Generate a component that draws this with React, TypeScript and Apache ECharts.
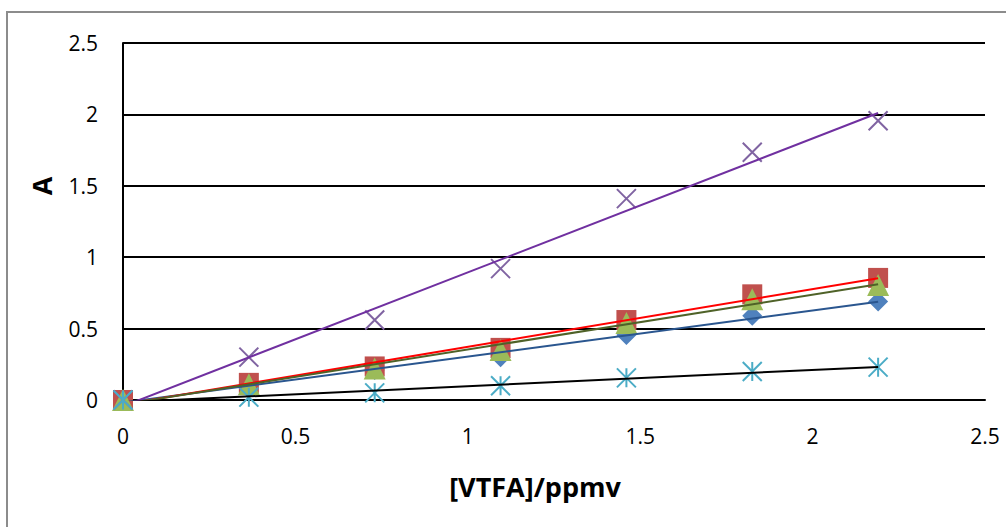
import React, { useEffect, useRef } from "react";
import * as echarts from "echarts";

const xValues = [0, 0.365, 0.73, 1.095, 1.46, 1.825, 2.19];
const seriesBlue = [0, 0.1, 0.21, 0.3, 0.455, 0.59, 0.69];
const seriesRed = [0, 0.12, 0.235, 0.365, 0.56, 0.74, 0.855];
const seriesGreen = [0, 0.11, 0.22, 0.35, 0.54, 0.705, 0.805];
const seriesPurple = [0, 0.3, 0.56, 0.92, 1.41, 1.735, 1.955];
const seriesCyan = [0, 0.02, 0.05, 0.1, 0.155, 0.2, 0.23];

const xTitle = "[VTFA]/ppmv";
const yTitle = "A";

function pairs(ys: number[]) {
  return xValues.map((x, i) => [x, ys[i]]);
}

function trend(ys: number[]) {
  const n = xValues.length;
  const mx = xValues.reduce((a, b) => a + b, 0) / n;
  const my = ys.reduce((a, b) => a + b, 0) / n;
  let sxy = 0;
  let sxx = 0;
  for (let i = 0; i < n; i++) {
    sxy += (xValues[i] - mx) * (ys[i] - my);
    sxx += (xValues[i] - mx) * (xValues[i] - mx);
  }
  const slope = sxy / sxx;
  const b = my - slope * mx;
  const x0 = xValues[0];
  const x1 = xValues[n - 1];
  return [
    [x0, slope * x0 + b],
    [x1, slope * x1 + b],
  ];
}

const FONT = "'Open Sans', 'Noto Sans', sans-serif";

export default function App() {
  const ref = useRef<HTMLDivElement>(null);
  useEffect(() => {
    if (!ref.current) return;
    const chart = echarts.init(ref.current, undefined, { renderer: "svg" });
    const xPath = "path://M0,0L10,10M10,0L0,10";
    const starPath = "path://M0,0L10,10M10,0L0,10M5,0L5,10";
    const scatter = (name: string, ys: number[], symbol: string, size: number, color: string, stroke = false) => ({
      name,
      type: "scatter",
      data: pairs(ys),
      symbol,
      symbolSize: size,
      clip: false,
      z: 2,
      itemStyle: stroke
        ? { color: "rgba(0,0,0,0)", borderColor: color, borderWidth: 2, opacity: 1 }
        : { color, opacity: 1 },
    });
    const line = (name: string, ys: number[], color: string) => ({
      name: name + " trend",
      type: "line",
      data: trend(ys),
      symbol: "none",
      clip: true,
      z: 3,
      lineStyle: { color, width: 2 },
    });
    chart.setOption({
      animation: false,
      backgroundColor: "#ffffff",
      grid: { left: 123, right: 21, top: 43, bottom: 127, containLabel: false },
      xAxis: {
        type: "value",
        min: 0,
        max: 2.5,
        interval: 0.5,
        axisLine: { show: true, onZero: false, lineStyle: { color: "#000", width: 2 } },
        axisTick: { show: false },
        splitLine: { show: false },
        axisLabel: { color: "#000", fontSize: 21, fontFamily: FONT, margin: 25 },
      },
      yAxis: {
        type: "value",
        min: 0,
        max: 2.5,
        interval: 0.5,
        axisLine: { show: true, lineStyle: { color: "#000", width: 2 } },
        axisTick: { show: false },
        splitLine: { show: true, lineStyle: { color: "#000", width: 2 } },
        axisLabel: { color: "#000", fontSize: 21, fontFamily: FONT, margin: 25 },
      },
      graphic: [
        {
          type: "rect",
          shape: { x: 7, y: 12, width: 1040, height: 560 },
          style: { fill: "none", stroke: "#8c8c8c", lineWidth: 2 },
          silent: true,
        },
        {
          type: "text",
          x: 535,
          y: 486,
          style: {
            text: xTitle,
            fill: "#000",
            font: "bold 27px " + FONT,
            textAlign: "center",
            textVerticalAlign: "middle",
          },
        },
        {
          type: "text",
          x: 41,
          y: 186,
          rotation: Math.PI / 2,
          style: {
            text: yTitle,
            fill: "#000",
            font: "bold 27px " + FONT,
            textAlign: "center",
            textVerticalAlign: "middle",
          },
        },
      ],
      series: [
        scatter("s1", seriesBlue, "diamond", 20, "#4F81BD"),
        scatter("s2", seriesRed, "rect", 20, "#C0504D"),
        scatter("s3", seriesGreen, "triangle", 22, "#9BBB59"),
        scatter("s4", seriesPurple, xPath, 19, "#8064A2", true),
        scatter("s5", seriesCyan, starPath, 19, "#4BACC6", true),
        line("s1", seriesBlue, "#2A568F"),
        line("s2", seriesRed, "#FF0000"),
        line("s3", seriesGreen, "#4F6228"),
        line("s4", seriesPurple, "#7030A0"),
        line("s5", seriesCyan, "#000000"),
      ],
    });
    return () => chart.dispose();
  }, []);
  return (
    <div
      ref={ref}
      style={{ position: "fixed", left: 0, top: 0, width: 1006, height: 527 }}
    />
  );
}
